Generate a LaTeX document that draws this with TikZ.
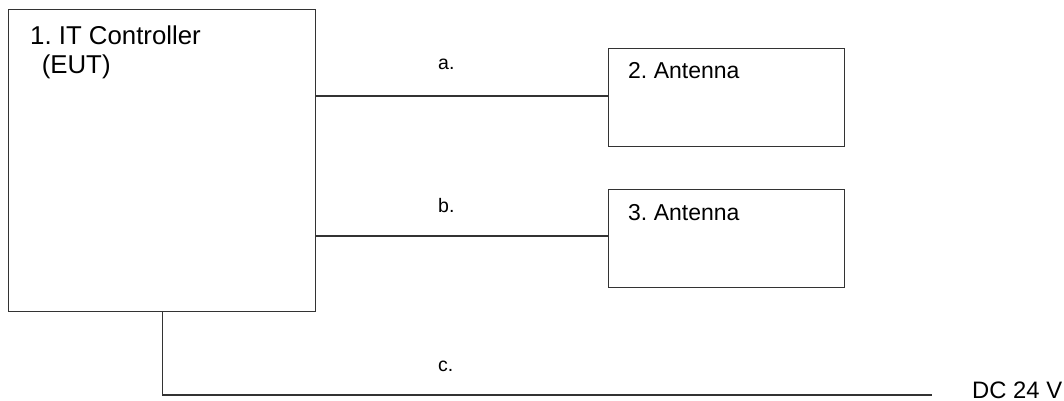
\documentclass[tikz,border=0pt]{standalone}
\usepackage{fontspec}
\setmainfont{Liberation Sans}
\frenchspacing
\begin{document}
\begin{tikzpicture}[x=1pt,y=-1pt,
  box/.style={draw=black!80,line width=1.2pt,inner sep=0pt,anchor=north west},
  wire/.style={draw=black!80,line width=1.2pt},
  big/.style={font=\fontsize{25.8}{29}\selectfont,inner sep=0pt},
  mid/.style={font=\fontsize{23}{27}\selectfont,inner sep=0pt},
  lbl/.style={font=\fontsize{19.5}{23}\selectfont,inner sep=0pt,anchor=base west}]
\useasboundingbox (0,0) rectangle (1064,401);
\node[box,minimum width=307pt,minimum height=302pt] (ctrl) at (8,9) {};
\node[box,minimum width=236pt,minimum height=98pt] (ant2) at (608,48) {};
\node[box,minimum width=236pt,minimum height=98pt] (ant3) at (608,189) {};
\node[big,anchor=base west,align=left] (t1) at (30,74) {1. IT Controller\\\hspace*{0.45em}(EUT)};
\node[mid,anchor=base west] (t2) at (628,79) {2. Antenna};
\node[mid,anchor=base west] (t3) at (628,220) {3. Antenna};
\node[mid,anchor=base west,font=\fontsize{23.8}{27}\selectfont] (dc) at (972,398) {DC 24 V};
\node[lbl] (la) at (438,70) {a.};
\node[lbl] (lb) at (438,212) {b.};
\node[lbl] (lc) at (438,371) {c.};
\coordinate (cend) at (932,395);
\draw[wire] (ctrl.east |- 0,96) -- (ant2.west |- 0,96);
\draw[wire] (ctrl.east |- 0,236) -- (ant3.west |- 0,236);
\draw[wire] (ctrl.south) |- (cend);
\end{tikzpicture}
\end{document}
